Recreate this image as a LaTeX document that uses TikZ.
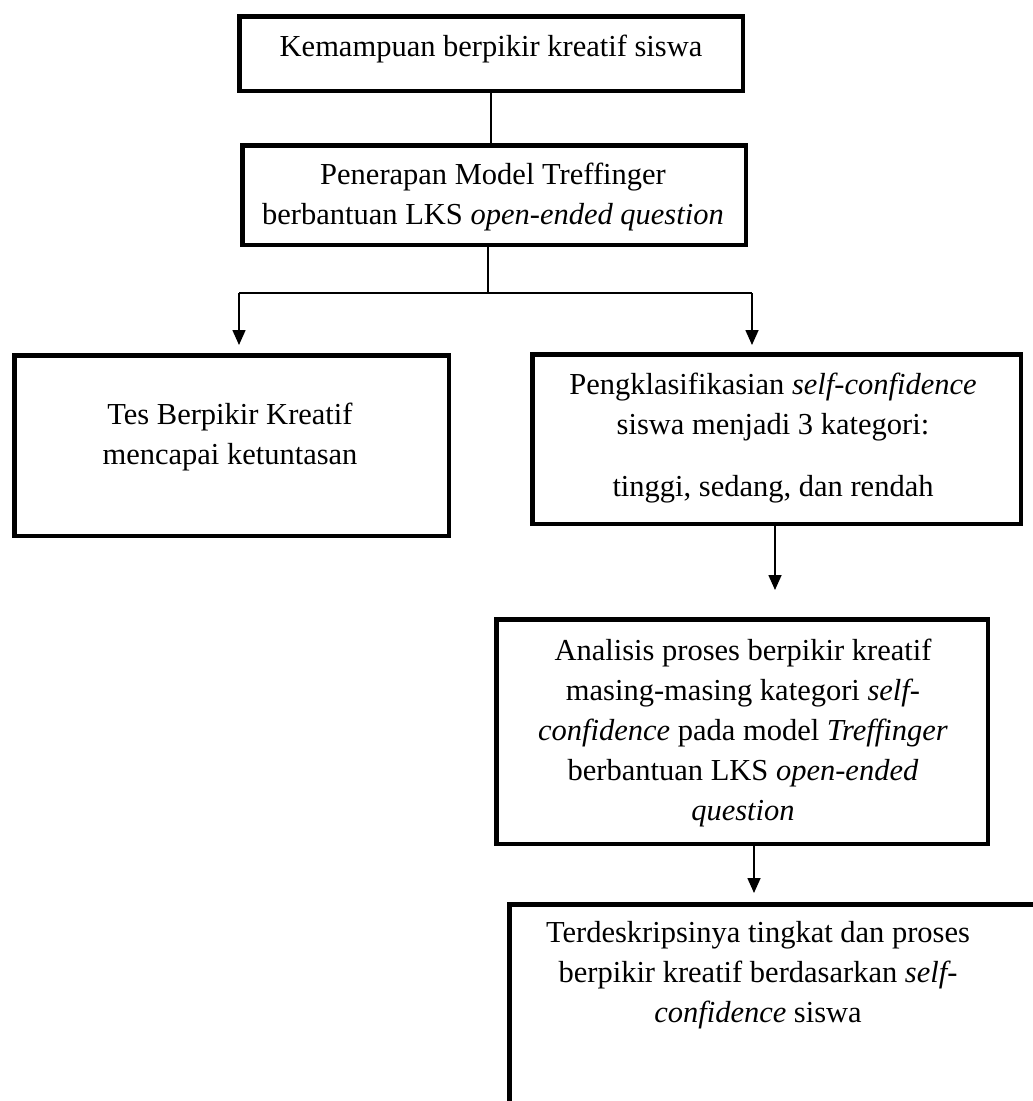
\documentclass[tikz,border=0pt]{standalone}
\usepackage{fontspec}
\setmainfont{Liberation Serif}
\usetikzlibrary{arrows.meta}
\begin{document}
\begin{tikzpicture}[x=1pt,y=-1pt,
  box/.style={draw, line width=4.5pt, inner sep=0pt, rectangle},
  txt/.style={align=center, inner sep=0pt, font=\fontsize{30.5}{40}\selectfont},
  conn/.style={line width=1.6pt},
  arr/.style={conn, -{Triangle[length=15pt,width=13pt]}}]
\useasboundingbox (0,0) rectangle (1033,1101);
\clip (0,0) rectangle (1033,1101);
\fill[white] (0,0) rectangle (1033,1101);
% boxes
\node[box, minimum width=503.5pt, minimum height=74.5pt] (b1) at (491,53.5) {};
\node[box, minimum width=503.5pt, minimum height=99.5pt] (b2) at (494,195) {};
\node[box, minimum width=434.5pt, minimum height=180.5pt] (b3l) at (231.5,445.5) {};
\node[box, minimum width=488.5pt, minimum height=169.5pt] (b3r) at (776.5,439) {};
\node[box, minimum width=491.5pt, minimum height=224.5pt] (b4) at (742,731.5) {};
\node[box, minimum width=548.5pt, minimum height=233.5pt] (b5) at (783.5,1021) {};
% texts
\node[txt] (t1) at (491,49) {Kemampuan berpikir kreatif siswa};
\node[txt] (t2) at (493,197) {Penerapan Model Treffinger\\berbantuan LKS \textit{open-ended question}};
\node[txt] (t3l) at (230,437) {Tes Berpikir Kreatif\\mencapai ketuntasan};
\node[txt] (t3r) at (773,438) {Pengklasifikasian \textit{self-confidence}\\siswa menjadi 3 kategori:\\[22pt]tinggi, sedang, dan rendah};
\node[txt] (t4) at (743,733) {Analisis proses berpikir kreatif\\masing-masing kategori \textit{self-}\\\textit{confidence} pada model \textit{Treffinger}\\berbantuan LKS \textit{open-ended}\\\textit{question}};
\node[txt] (t5) at (758,975) {Terdeskripsinya tingkat dan proses\\berpikir kreatif berdasarkan \textit{self-}\\\textit{confidence} siswa};
% connectors
\draw[conn] (b1.south) -- (b1.south |- b2.north);
\coordinate (j) at (488,293);
\coordinate (jl) at (239,293);
\coordinate (jr) at (752,293);
\draw[conn] (j |- b2.south) -- (j);
\draw[conn, line cap=square] (jl) -- (jr);
\draw[arr, shorten >=8pt] (jl) -- (jl |- b3l.north);
\draw[arr, shorten >=7pt] (jr) -- (jr |- b3r.north);
\coordinate (k) at (775,0);
\draw[arr, shorten >=27pt] (k |- b3r.south) -- (k |- b4.north);
\coordinate (m) at (754,0);
\draw[arr, shorten >=9pt] (m |- b4.south) -- (m |- b5.north);
\end{tikzpicture}
\end{document}
